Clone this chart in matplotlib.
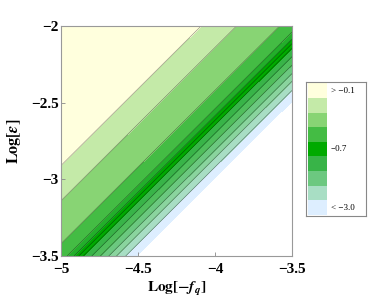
import numpy as np
import matplotlib
matplotlib.use("Agg")
import matplotlib.pyplot as plt
from matplotlib.patches import Rectangle

plt.rcParams['font.family'] = ['Liberation Serif', 'DejaVu Serif']
plt.rcParams['mathtext.fontset'] = 'stix'

# Data: contour band boundaries in u = Log[eps] - Log[-f_q] (bands are diagonal)
band_levels = [1.01, 1.08, 1.14, 1.19, 1.245, 1.30, 1.355, 1.385, 1.415, 1.46, 1.58, 1.86, 2.09, 3.1]
band_colors = ['#DDEEFF', '#A8DEC4', '#8AD49E', '#6CC880', '#50BE5C', '#38B448',
               '#00AA00', '#00A600', '#22AE2A', '#44BC44', '#88D474', '#C4EAA8', '#FFFFDD']
x_range = [-5.0, -3.5]
y_range = [-3.5, -2.0]
x_ticks = [-5, -4.5, -4, -3.5]
y_ticks = [-3.5, -3, -2.5, -2]

legend_colors = ['#FFFFDD', '#C4EAA8', '#88D474', '#44BC44', '#00AA00',
                 '#38B448', '#6CC880', '#A8DEC4', '#DDEEFF']
legend_labels = {0: '> \u22120.1', 4: '\u22120.7', 8: '< \u22123.0'}

fig = plt.figure(figsize=(3.74, 3.06), dpi=100)
ax = fig.add_axes([61/374, 1-256/306, 231/374, 230/306])

xs = np.linspace(x_range[0], x_range[1], 400)
ys = np.linspace(y_range[0], y_range[1], 400)
X, Y = np.meshgrid(xs, ys)
U = Y - X
ax.contourf(X, Y, U, levels=band_levels, colors=band_colors)
ax.contour(X, Y, U, levels=band_levels[1:-1], colors='#000000', linewidths=0.5, alpha=0.4)

ax.set_xlim(x_range)
ax.set_ylim(y_range)
ax.set_xticks(x_ticks)
ax.set_yticks(y_ticks)
fmt = lambda v: ('%g' % v).replace('-', '\u2212')
ax.set_xticklabels([fmt(v) for v in x_ticks], fontweight='bold', fontsize=11)
ax.set_yticklabels([fmt(v) for v in y_ticks], fontweight='bold', fontsize=11)
ax.tick_params(axis='x', direction='in', length=3, width=0.6, color='#888888', pad=5)
ax.tick_params(axis='y', direction='in', length=3, width=0.6, color='#888888', pad=1.5)
for s in ax.spines.values():
    s.set_color('#999999')
    s.set_linewidth(0.8)

ax.set_xlabel(r'$\mathbf{Log[-}\mathbfit{f}_{\mathbfit{q}}\mathbf{]}$', fontsize=11, labelpad=3)
ax.set_ylabel(r'$\mathbf{Log[}\mathbfit{\epsilon}\mathbf{]}$', fontsize=11.5, labelpad=6)

# Legend
lax = fig.add_axes([306/374, 1-216/306, 60/374, 134/306])
lax.set_xlim(0, 1)
lax.set_ylim(0, 1)
lax.set_xticks([])
lax.set_yticks([])
for s in lax.spines.values():
    s.set_color('#888888')
    s.set_linewidth(0.8)
n = len(legend_colors)
top = 1 - 1.3/134
bot = 1/134
h = (top - bot) / n
for i, c in enumerate(legend_colors):
    y0 = top - (i + 1) * h
    lax.add_patch(Rectangle((0.03, y0), 0.32, h, facecolor=c, edgecolor='none'))
    if i in legend_labels:
        lax.text(0.41, y0 + h/2, legend_labels[i], fontsize=6.5, va='center', ha='left')

fig.savefig('out.png', dpi=100)
